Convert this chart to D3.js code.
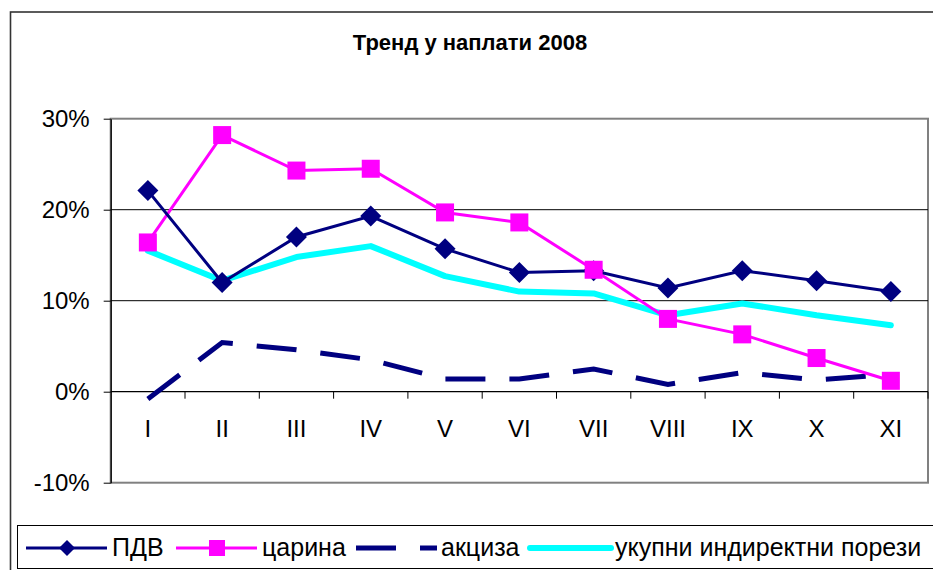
<!DOCTYPE html>
<html>
<head>
<meta charset="utf-8">
<script src="https://cdn.jsdelivr.net/npm/d3@7"></script>
<style>
  body { margin: 0; background: #fff; }
  text { font-family: "Liberation Sans", Arial, sans-serif; }
</style>
</head>
<body>
<div id="chart"></div>
<script>
"use strict"

const months = ["I", "II", "III", "IV", "V", "VI", "VII", "VIII", "IX", "X", "XI"];

const pdv     = [0.221, 0.120, 0.170, 0.193, 0.157, 0.131, 0.133, 0.114, 0.133, 0.122, 0.110];
const carina  = [0.164, 0.282, 0.243, 0.245, 0.197, 0.186, 0.134, 0.080, 0.063, 0.037, 0.012];
const akciza  = [-0.008, 0.054, 0.046, 0.035, 0.014, 0.014, 0.025, 0.008, 0.021, 0.013, 0.019];
const ukupno  = [0.155, 0.122, 0.148, 0.160, 0.127, 0.110, 0.108, 0.084, 0.097, 0.084, 0.073];

const yTicks = [-0.1, 0, 0.1, 0.2, 0.3];
const titleText = "Тренд у наплати 2008";

let width = 933, height = 570;
let plot = {left: 110.7, top: 118.7, right: 928, bottom: 482.7};

let svg = d3.select("#chart")
            .append("svg")
            .attr("width", width)
            .attr("height", height);

// outer chart frame (runs off the right and bottom edges)
svg.append("rect")
   .attr("x", 10.5).attr("y", 12)
   .attr("width", 1000).attr("height", 1000)
   .style("fill", "none")
   .style("stroke", "#333")
   .style("stroke-width", 1.6);

svg.append("text")
   .attr("x", 470).attr("y", 50)
   .attr("text-anchor", "middle")
   .style("font-size", "22px")
   .style("font-weight", "bold")
   .text(titleText);

let x = d3.scaleBand()
          .domain(months)
          .range([plot.left, plot.right]);

let y = d3.scaleLinear()
          .domain([-0.1, 0.3])
          .range([plot.bottom, plot.top]);

// plot area border
svg.append("rect")
   .attr("x", plot.left).attr("y", plot.top)
   .attr("width", plot.right - plot.left)
   .attr("height", plot.bottom - plot.top)
   .style("fill", "none")
   .style("stroke", "#808080")
   .style("stroke-width", 2);

// gridlines
svg.append("g")
   .selectAll("line")
   .data([0.1, 0.2])
   .enter()
   .append("line")
   .attr("x1", plot.left).attr("x2", plot.right)
   .attr("y1", d => y(d)).attr("y2", d => y(d))
   .style("stroke", "#000")
   .style("stroke-width", 1);

let pct = function(d) { return Math.round(d * 100) + "%"; }

// y axis
let yAxis = svg.append("g")
   .attr("transform", "translate(" + plot.left + ",0)")
   .call(d3.axisLeft(y).tickValues(yTicks).tickFormat(pct).tickSize(7).tickPadding(14).tickSizeOuter(0));
yAxis.select(".domain").style("stroke", "#000").style("stroke-width", 1.3);
yAxis.selectAll("text").style("font-size", "24px").style("font-family", '"Liberation Sans", Arial, sans-serif').attr("fill", "#000");
yAxis.selectAll(".tick line").style("stroke", "#000");

// x axis at 0%
svg.append("line")
   .attr("x1", plot.left).attr("x2", plot.right)
   .attr("y1", y(0)).attr("y2", y(0))
   .style("stroke", "#000")
   .style("stroke-width", 1.3);

let bounds = months.map(m => x(m)).concat([x.range()[1]]).slice(1);
svg.append("g")
   .selectAll("line")
   .data(bounds)
   .enter()
   .append("line")
   .attr("x1", d => d).attr("x2", d => d)
   .attr("y1", y(0)).attr("y2", y(0) + 7)
   .style("stroke", "#000");

let xAxis = svg.append("g")
   .attr("transform", "translate(0," + y(0) + ")")
   .call(d3.axisBottom(x).tickSize(0).tickPadding(28));
xAxis.select(".domain").remove();
xAxis.selectAll("text").style("font-size", "24px").style("font-family", '"Liberation Sans", Arial, sans-serif').attr("fill", "#000");

let line = d3.line()
             .x((d, i) => x(months[i]) + x.bandwidth() / 2)
             .y(d => y(d));

svg.append("path").datum(ukupno)
   .attr("d", line)
   .style("fill", "none").style("stroke", "#00FFFF").style("stroke-width", 6)
   .style("stroke-linejoin", "round").style("stroke-linecap", "round");

svg.append("path").datum(akciza)
   .attr("d", line)
   .style("fill", "none").style("stroke", "#000080").style("stroke-width", 5)
   .style("stroke-dasharray", "40,24");

svg.append("path").datum(carina)
   .attr("d", line)
   .style("fill", "none").style("stroke", "#FF00FF").style("stroke-width", 3);

svg.append("path").datum(pdv)
   .attr("d", line)
   .style("fill", "none").style("stroke", "#000080").style("stroke-width", 3);

let diamond = function(cx, cy, r) {
  return "M" + cx + "," + (cy - r) + "L" + (cx + r) + "," + cy + "L" + cx + "," + (cy + r) + "L" + (cx - r) + "," + cy + "Z";
}

svg.append("g")
   .selectAll("path")
   .data(pdv)
   .enter()
   .append("path")
   .attr("d", (d, i) => diamond(x(months[i]) + x.bandwidth() / 2, y(d), 10.5))
   .style("fill", "#000080");

svg.append("g")
   .selectAll("rect")
   .data(carina)
   .enter()
   .append("rect")
   .attr("x", (d, i) => x(months[i]) + x.bandwidth() / 2 - 9)
   .attr("y", d => y(d) - 9)
   .attr("width", 18).attr("height", 18)
   .style("fill", "#FF00FF");

// legend
let legend = svg.append("g");
legend.append("rect")
   .attr("x", 17.5).attr("y", 525.5)
   .attr("width", 1000).attr("height", 43)
   .style("fill", "#fff")
   .style("stroke", "#000")
   .style("stroke-width", 1);

let legendItems = [
  {name: "ПДВ", color: "#000080", w: 3, dash: null, marker: "diamond", lx: 26, tx: 112},
  {name: "царина", color: "#FF00FF", w: 3, dash: null, marker: "square", lx: 176, tx: 262},
  {name: "акциза", color: "#000080", w: 5, dash: "40,24", marker: null, lx: 356, tx: 441},
  {name: "укупни индиректни порези", color: "#00FFFF", w: 6, dash: null, marker: null, lx: 530, tx: 615}
];
let ly = 548;

legendItems.forEach(function(it) {
  legend.append("line")
    .attr("x1", it.lx).attr("x2", it.lx + 81)
    .attr("y1", ly).attr("y2", ly)
    .style("stroke", it.color)
    .style("stroke-width", it.w)
    .style("stroke-dasharray", it.dash)
    .style("stroke-linecap", it.marker == null && it.dash == null ? "round" : "butt");
  if (it.marker == "diamond") {
    legend.append("path")
      .attr("d", diamond(it.lx + 41, ly, 8))
      .style("fill", it.color);
  } else if (it.marker == "square") {
    legend.append("rect")
      .attr("x", it.lx + 41 - 8).attr("y", ly - 8)
      .attr("width", 16).attr("height", 16)
      .style("fill", it.color);
  }
  legend.append("text")
    .attr("x", it.tx).attr("y", ly + 8)
    .style("font-size", "25px")
    .text(it.name);
});
</script>
</body>
</html>
